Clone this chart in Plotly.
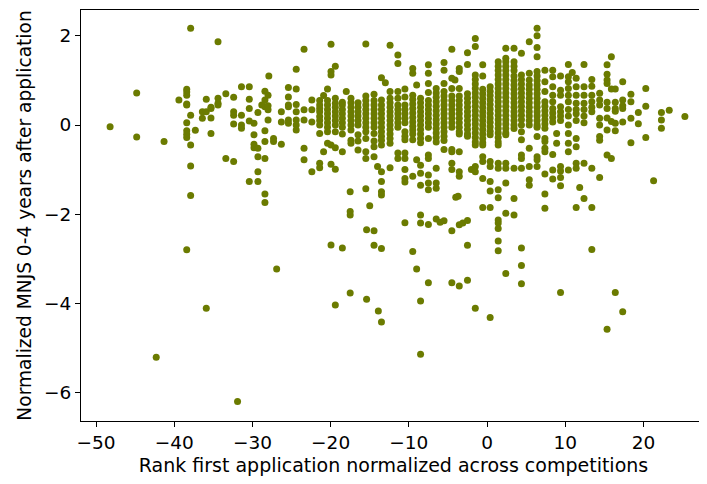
import plotly.graph_objects as go

# Each column: rank value (x) and the list of normalized MNJS values (y)
column_ranks = [
    -48.2, -44.8, -42.3, -41.3, -39.4, -38.4, -37.9, -37.3, -36.4, -35.9, -35.3, -34.4,
    -33.4, -32.4, -31.9, -31.4, -30.4, -29.8, -29.3, -28.8, -28.4, -28.0, -27.9, -27.3,
    -26.9, -26.3, -25.4, -24.4, -23.4, -22.4, -21.4, -20.9, -20.4, -19.95, -19.4, -18.5,
    -18.0, -17.5, -17.4, -16.5, -15.5, -15.4, -15.0, -14.45, -14.0, -13.9, -13.5, -13.0,
    -12.4, -11.4, -10.5, -9.5, -9.0, -8.5, -7.5, -6.5, -6.0, -5.5, -4.5, -4.1, -4.0,
    -3.7, -3.55, -3.1, -2.5, -2.0, -1.5, -0.55, 0.4, 1.43, 2.4, 3.45, 4.4, 5.4, 6.4,
    7.4, 8.4, 8.9, 9.4, 10.4, 10.9, 11.4, 11.85, 12.4, 13.4, 14.4, 15.35, 15.9, 16.4,
    17.35, 18.4, 19.35, 20.3, 21.3, 22.3, 23.3, 25.3,
]

column_mnjs = [
    [-0.04],
    [0.72, -0.27],
    [-5.21],
    [-0.37],
    [0.56],
    [0.8, 0.74, 0.67, 0.47, 0.45, 0.05, -0.13, -0.21, -0.28, -2.8],
    [2.17, 0.22, -0.45, -0.92, -1.58],
    [-0.12],
    [0.3, 0.15],
    [0.58, 0.3, -4.11],
    [0.4, 0.37, 0.16, -0.19],
    [1.87, 0.6, 0.49, 0.45],
    [0.7, -0.75],
    [0.62, 0.3, 0.22, 0.02, -0.82],
    [-6.2],
    [0.86, 0.22, 0.0, -0.07],
    [0.86, 0.58, 0.37, 0.09, -1.27],
    [0.04, -0.22, -0.43, -0.51],
    [0.28, -0.52, -0.71, -1.05, -1.27],
    [0.45],
    [0.76, 0.56, 0.41, -0.13, -0.37, -0.75, -1.55, -1.74],
    [0.67, 0.43, 0.34, 0.11],
    [1.1],
    [-0.3, -0.37],
    [-3.23],
    [0.3, 0.07, -0.43],
    [0.84, 0.63, 0.45, 0.41, 0.11, 0.04],
    [1.25, 0.81, 0.46, 0.3, 0.11, 0.0, -0.11],
    [1.7, 0.34, 0.11, -0.52, -0.78],
    [0.56, 0.34, 0.07, -1.05],
    [0.55, 0.45, 0.37, 0.3, 0.19, 0.1, 0.0, -0.19, -0.86, -0.96],
    [0.66, -0.6],
    [0.81, 0.55, 0.45, 0.35, 0.25, 0.15, 0.05, -0.05, -0.15, -0.41],
    [1.81, 1.2, 1.12, -0.45, -0.88, -2.69],
    [1.32, 0.6, 0.49, 0.4, 0.3, 0.2, 0.1, 0.0, -0.15, -0.51, -0.99, -4.04],
    [0.51, 0.45, 0.35, 0.25, 0.15, 0.05, -0.05, -0.2, -0.6, -2.76],
    [0.75],
    [-1.5, -1.94, -2.02, -3.77],
    [0.6, 0.5, 0.4, 0.3, 0.2, 0.1, 0.0, -0.11, -0.34, -0.41],
    [0.5, 0.4, 0.3, 0.2, 0.1, 0.0, -0.22, -0.36, -0.56],
    [1.82, 0.65, 0.55, 0.45, 0.35, 0.25, 0.15, 0.05, -0.05, -0.15, -0.3, -0.6, -0.75, -1.43],
    [-2.35, -3.91],
    [-1.81],
    [0.69, 0.55, 0.45, 0.35, 0.25, 0.15, 0.05, -0.05, -0.19, -0.36, -0.49, -0.71, -2.37, -2.7],
    [-0.93],
    [-4.17],
    [1.06, 0.56, 0.45, 0.35, 0.25, 0.15, 0.05, -0.05, -0.15, -0.25, -0.34, -0.45, -1.05,
     -1.27, -1.5, -1.57, -2.77, -4.42],
    [0.95],
    [1.79, 0.75, 0.6, 0.5, 0.4, 0.3, 0.2, 0.1, 0.0, -0.1, -0.2, -0.3, -0.41, -0.96],
    [1.57, 1.38, 0.75, 0.6, 0.45, 0.35, 0.25, 0.15, 0.05, -0.05, -0.63, -0.75],
    [0.81, 0.63, 0.45, 0.35, 0.25, 0.15, 0.05, -0.15, -0.25, -0.33, -0.63, -0.75, -1.0,
     -1.2, -1.28, -2.19],
    [1.27, 1.16, 0.67, 0.57, 0.47, 0.37, 0.27, 0.17, 0.07, -0.03, -0.11, -0.2, -0.33,
     -1.15, -2.84],
    [0.9, -0.78, -3.23],
    [0.6, 0.5, 0.4, 0.3, 0.2, 0.1, 0.0, -0.1, -0.2, -0.3, -0.4, -0.9, -1.08, -1.35,
     -2.02, -2.2, -3.95, -5.14],
    [1.35, 1.16, 0.93, 0.73, 0.55, 0.45, 0.35, 0.25, 0.15, 0.05, -0.05, -0.3, -0.67,
     -0.75, -1.12, -1.3, -1.45, -2.23, -3.54],
    [0.82, 0.72, 0.62, 0.52, 0.42, 0.32, 0.22, 0.12, 0.02, -0.08, -0.18, -0.28, -0.38,
     -0.97, -1.3, -1.42, -2.11],
    [-2.18],
    [1.4, 1.23, 0.93, 0.75, 0.65, 0.55, 0.45, 0.35, 0.25, 0.15, 0.05, -0.05, -0.15,
     -0.25, -0.35, -0.55, -2.15],
    [1.7, 1.05, 0.82, 0.65, 0.55, 0.45, 0.35, 0.25, 0.15, 0.05, -0.05, -0.55, -0.6,
     -0.86, -1.0, -2.37, -3.54],
    [1.01],
    [-1.62],
    [-1.6],
    [1.27, 1.2, 0.82, 0.65, 0.55, 0.45, 0.35, 0.25, 0.15, 0.05, -0.05, -0.15, -0.2,
     -0.6, -1.05, -1.15, -2.24, -3.61],
    [-2.2],
    [1.62, 1.36, 0.7, 0.6, 0.5, 0.4, 0.3, 0.2, 0.1, 0.0, -0.1, -0.2, -0.25, -2.14,
     -2.7, -3.48],
    [-1.0],
    [1.94, 1.76, 1.12, 1.02, 0.92, 0.82, 0.72, 0.62, 0.52, 0.42, 0.32, 0.22, 0.12, 0.02,
     -0.08, -0.18, -0.28, -0.38, -0.45, -0.93, -1.05, -4.11],
    [1.35, 1.1, 0.8, 0.7, 0.6, 0.5, 0.4, 0.3, 0.2, 0.1, 0.0, -0.1, -0.2, -0.3, -0.4,
     -0.45, -0.71, -0.82, -1.2, -1.85],
    [0.86, 0.76, 0.66, 0.56, 0.46, 0.36, 0.26, 0.16, 0.06, -0.04, -0.14, -0.22, -0.82,
     -0.93, -1.27, -1.48, -1.85, -4.32],
    [1.42, 1.32, 1.22, 1.12, 1.02, 0.92, 0.82, 0.72, 0.62, 0.52, 0.42, 0.32, 0.22, 0.12,
     0.02, -0.08, -0.18, -0.28, -0.38, -0.45, -0.86, -0.97, -1.45, -1.63, -2.13, -2.2,
     -2.32, -2.6, -2.82],
    [1.72, 1.5, 1.42, 1.32, 1.22, 1.12, 1.02, 0.92, 0.82, 0.72, 0.62, 0.52, 0.42, 0.32,
     0.22, 0.12, 0.02, -0.08, -0.18, -0.22, -0.86, -0.97, -1.3, -1.98, -3.33],
    [1.72, 1.42, 1.32, 1.22, 1.1, 1.0, 0.9, 0.8, 0.7, 0.6, 0.5, 0.4, 0.3, 0.2, 0.1, 0.0,
     -0.08, -0.97, -1.65, -2.02],
    [1.61, 1.12, 1.02, 0.92, 0.82, 0.72, 0.62, 0.52, 0.42, 0.32, 0.22, 0.12, 0.0, -0.15,
     -0.33, -0.67, -0.75, -0.97, -2.76, -3.15, -3.56],
    [1.87, 1.16, 1.01, 0.9, 0.8, 0.7, 0.6, 0.5, 0.4, 0.3, 0.2, 0.1, 0.0, -0.52, -0.93,
     -1.23, -1.35],
    [2.17, 2.0, 1.74, 1.53, 1.2, 1.1, 1.0, 0.9, 0.8, 0.7, 0.6, 0.5, 0.4, 0.3, 0.2, 0.1,
     0.0, -0.05, -0.26, -0.71, -0.78, -0.93],
    [1.23, 0.97, 0.75, 0.52, 0.42, 0.32, 0.22, 0.12, 0.02, -0.07, -0.3, -0.37, -0.52,
     -0.6, -1.1, -1.55, -1.87],
    [1.23, 1.08, 0.86, 0.67, 0.52, 0.37, 0.27, 0.17, 0.07, -0.66, -1.01, -1.21],
    [-0.19, -0.41],
    [1.1, 0.78, 0.67, 0.41, 0.3, 0.2, 0.1, -0.93, -1.03, -1.18, -1.36, -3.76],
    [1.36, 1.08, 0.97, 0.82, 0.67, 0.52, 0.35, 0.2, 0.0, -0.19, -0.41, -0.6, -1.01],
    [1.18],
    [1.05, 0.86, 0.67, 0.49, 0.35, 0.25, 0.1, -0.3, -0.49, -0.86, -0.97, -1.85],
    [-1.4],
    [1.36, 0.86, 0.67, 0.49, 0.35, 0.2, 0.05, -0.86, -1.65],
    [1.02, 0.87, 0.67, 0.52, 0.4, 0.3, -0.97, -1.85, -2.79],
    [0.71, 0.56, 0.45, 0.15, 0.0, -0.26, -0.34, -1.18],
    [1.35, 1.14, 1.01, 0.93, 0.51, 0.37, 0.16, -0.11, -0.67, -4.58],
    [1.53, 0.81, 0.08, -0.75],
    [0.81, 0.51, 0.37, 0.31, 0.04, -0.13, -3.76],
    [0.97, 0.56, 0.43, 0.37, 0.07, -4.19],
    [0.69, 0.52, 0.15, -0.4],
    [0.28, 0.03],
    [0.82, 0.42, -0.28],
    [-1.25],
    [0.28, 0.11, -0.07],
    [0.33],
    [0.19],
]

x_tick_values = [-50, -40, -30, -20, -10, 0, 10, 20]
y_tick_values = [2, 0, -2, -4, -6]

ranks = []
mnjs = []
for r, ys in zip(column_ranks, column_mnjs):
    for v in ys:
        ranks.append(r)
        mnjs.append(v)

fig = go.Figure(
    go.Scatter(
        x=ranks,
        y=mnjs,
        mode="markers",
        marker=dict(color="#6b7b00", size=7, line=dict(width=0)),
        hoverinfo="x+y",
    )
)

axis_common = dict(
    showgrid=False,
    zeroline=False,
    showline=True,
    linecolor="black",
    linewidth=1,
    mirror=True,
    ticks="outside",
    ticklen=5,
    tickwidth=1,
    tickcolor="black",
    tickfont=dict(family="DejaVu Sans", size=18.5, color="black"),
)

# The page body has an 8px default margin, so the figure is sized to fill the rest
fig.update_layout(
    width=699,
    height=476,
    margin=dict(l=73, r=1, t=2, b=63, autoexpand=False),
    paper_bgcolor="white",
    plot_bgcolor="white",
    showlegend=False,
    font=dict(family="DejaVu Sans", color="black"),
    xaxis=dict(
        range=[-51.92, 28.0],
        tickvals=x_tick_values,
        title=dict(text="Rank first application normalized across competitions",
                   font=dict(size=19, family="DejaVu Sans"), standoff=6),
        **axis_common,
    ),
    yaxis=dict(
        range=[-6.64, 2.58],
        tickvals=y_tick_values,
        title=dict(text="Normalized MNJS 0-4 years after application",
                   font=dict(size=18.6, family="DejaVu Sans"), standoff=7),
        **axis_common,
    ),
)

fig.write_html("out.html")
